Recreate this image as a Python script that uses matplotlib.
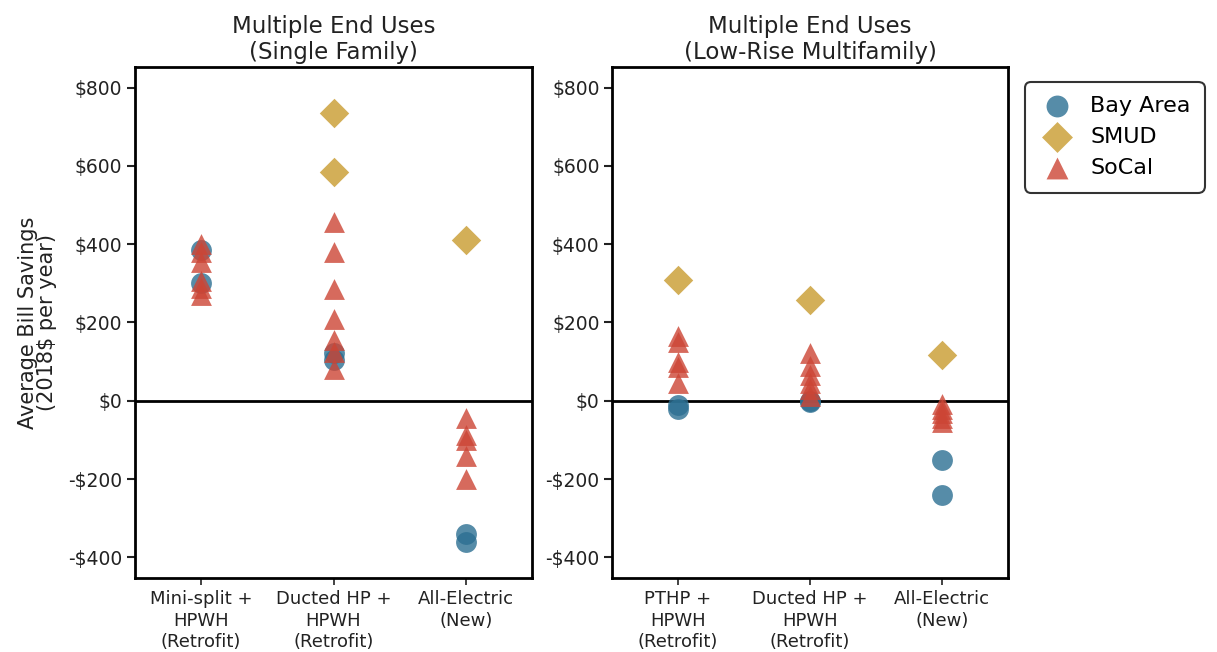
import matplotlib
matplotlib.use("Agg")
import matplotlib.pyplot as plt
from matplotlib.ticker import FuncFormatter

# ---- data ----
sf_categories = ["Mini-split +\nHPWH\n(Retrofit)", "Ducted HP +\nHPWH\n(Retrofit)", "All-Electric\n(New)"]
mf_categories = ["PTHP +\nHPWH\n(Retrofit)", "Ducted HP +\nHPWH\n(Retrofit)", "All-Electric\n(New)"]

sf_bayarea = [[385, 300], [122, 105], [-340, -362]]
sf_smud = [[], [735, 585], [410]]
sf_socal = [[400, 380, 355, 305, 288, 270],
            [458, 380, 285, 210, 155, 125, 80],
            [-45, -88, -100, -140, -200]]

mf_bayarea = [[-10, -22], [0, -3], [-152, -240]]
mf_smud = [[308], [258], [116]]
mf_socal = [[165, 150, 100, 85, 45],
            [122, 88, 67, 46, 30, 12],
            [-8, -20, -32, -45, -55]]

titles = ["Multiple End Uses\n(Single Family)", "Multiple End Uses\n(Low-Rise Multifamily)"]
series_names = ["Bay Area", "SMUD", "SoCal"]
yticks = [-400, -200, 0, 200, 400, 600, 800]

colors = ["#2c6f92", "#c89b2e", "#cc4535"]
markers = ["o", "D", "^"]

fig = plt.figure(figsize=(12.17, 6.52), dpi=100)
W, H = 1217, 652
ax1 = fig.add_axes([135 / W, 1 - 578 / H, 397 / W, 511 / H])
ax2 = fig.add_axes([612 / W, 1 - 578 / H, 396 / W, 511 / H])

panels = [(ax1, sf_categories, [sf_bayarea, sf_smud, sf_socal]),
          (ax2, mf_categories, [mf_bayarea, mf_smud, mf_socal])]

fmt = FuncFormatter(lambda v, p: ("-$%d" % abs(v)) if v < 0 else ("$%d" % v))

handles = []
for i, (ax, cats, series) in enumerate(panels):
    ax.axhline(0, color="black", lw=2, zorder=1)
    for s, (vals, name) in enumerate(zip(series, series_names)):
        xs, ys = [], []
        for c, vlist in enumerate(vals):
            xs += [c] * len(vlist)
            ys += vlist
        sc = ax.scatter(xs, ys, s=225, marker=markers[s], color=colors[s],
                        alpha=0.8, linewidths=0, zorder=2 + s, label=name)
        if i == 0:
            handles.append(sc)
    ax.set_xlim(-0.5, 2.5)
    ax.set_ylim(-453, 853)
    ax.set_xticks(range(len(cats)))
    ax.set_xticklabels(cats, fontsize=13, color="#222222", linespacing=1.22)
    ax.set_yticks(yticks)
    ax.yaxis.set_major_formatter(fmt)
    ax.tick_params(axis="y", labelsize=13.5, length=6, width=1.5, colors="#222222", pad=3)
    ax.tick_params(axis="x", length=5, width=1.2, colors="#222222", pad=4)
    for sp in ax.spines.values():
        sp.set_linewidth(2)
        sp.set_color("black")
    ax.set_title(titles[i], fontsize=16.5, color="#222222", pad=6, linespacing=1.15)

ax1.set_ylabel("Average Bill Savings\n(2018$ per year)", fontsize=15, color="#222222",
               labelpad=8, linespacing=0.95)

leg = fig.legend(handles=handles, loc="upper left",
                 bbox_to_anchor=(1018 / W, 1 - 75 / H), fontsize=16,
                 frameon=True, markerscale=1.05, handlelength=1.6, handletextpad=0.7,
                 borderpad=0.45, labelspacing=0.5)
leg.get_frame().set_edgecolor("black")
leg.get_frame().set_linewidth(1.5)
leg.get_frame().set_boxstyle("round,pad=0.2,rounding_size=0.3")
for h in leg.legend_handles:
    h.set_alpha(0.8)

fig.savefig("out.png", dpi=100)
